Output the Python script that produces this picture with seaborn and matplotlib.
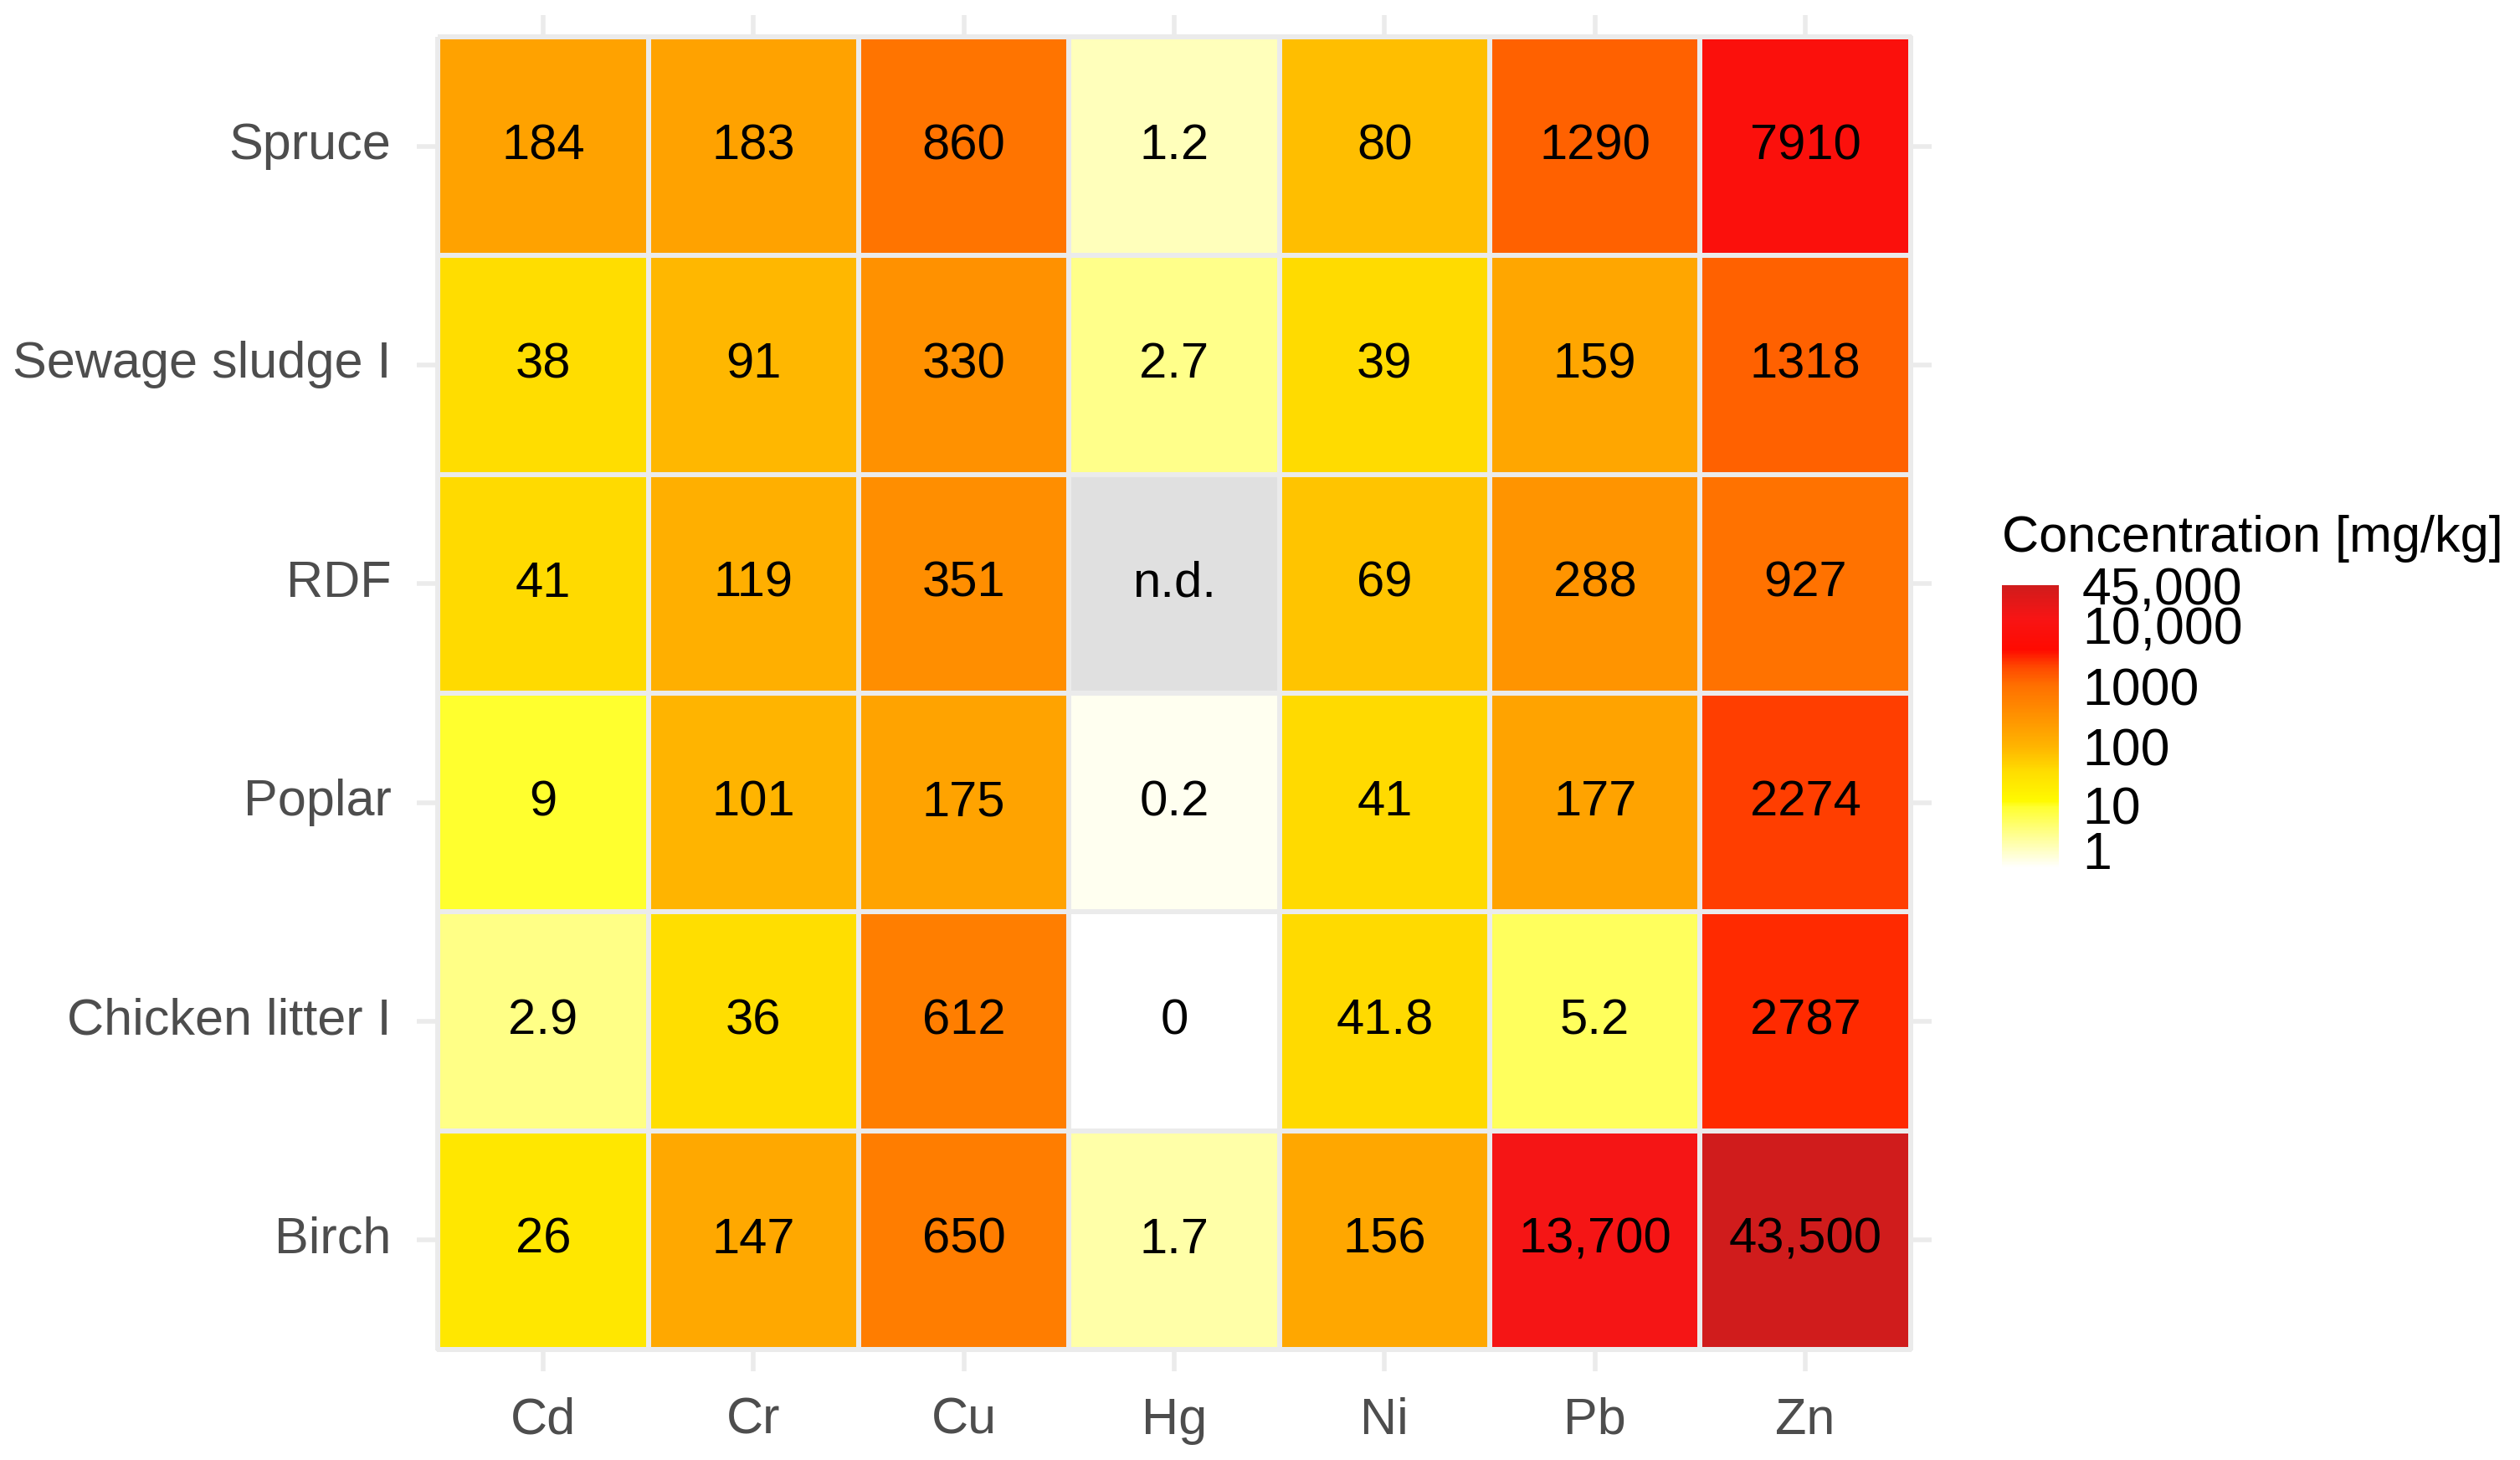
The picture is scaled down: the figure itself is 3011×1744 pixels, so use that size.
import numpy as np
import pandas as pd
import seaborn as sns
import matplotlib.pyplot as plt
from matplotlib.colors import LinearSegmentedColormap

# Data
samples = ['Spruce', 'Sewage sludge I', 'RDF', 'Poplar', 'Chicken litter I', 'Birch']
metals = ['Cd', 'Cr', 'Cu', 'Hg', 'Ni', 'Pb', 'Zn']

spruce = [184, 183, 860, 1.2, 80, 1290, 7910]
sewage_sludge = [38, 91, 330, 2.7, 39, 159, 1318]
rdf = [41, 119, 351, np.nan, 69, 288, 927]
poplar = [9, 101, 175, 0.2, 41, 177, 2274]
chicken_litter = [2.9, 36, 612, 0, 41.8, 5.2, 2787]
birch = [26, 147, 650, 1.7, 156, 13700, 43500]

legend_ticks = [1, 10, 100, 1000, 10000, 45000]
legend_labels = ['1', '10', '100', '1000', '10,000', '45,000']

df = pd.DataFrame([spruce, sewage_sludge, rdf, poplar, chicken_litter, birch],
                  index=samples, columns=metals)


def fmt(v):
    if np.isnan(v):
        return 'n.d.'
    if v >= 10000:
        return '{:,.0f}'.format(v)
    return '{:g}'.format(v)


labels = df.apply(lambda col: col.map(fmt))
trans = np.log10(df + 1)

vmax = np.log10(45000 + 1)
stops = [(0.0, '#FFFFFF'), (1.0, '#FFFF30'), (1.1, '#FFFA00'), (1.6, '#FFDC00'),
         (2.0, '#FFB400'), (2.5, '#FF9200'), (3.0, '#FF7000'), (3.3, '#FF4A00'),
         (3.6, '#FF0A00'), (4.1, '#F81414'), (vmax, '#D01C1C')]
cmap = LinearSegmentedColormap.from_list('conc', [(v / vmax, c) for v, c in stops])
cmap.set_bad('#E0E0E0')

sns.set_style('white')
plt.rcParams['font.family'] = ['Liberation Sans', 'DejaVu Sans']

fig = plt.figure(figsize=(15.055, 8.72), dpi=200)
ax = fig.add_axes([0.1654, 0.0608, 0.6011, 0.9290])
cax = fig.add_axes([0.7944, 0.4054, 0.0226, 0.1938])

sns.heatmap(trans, ax=ax, cbar_ax=cax, cmap=cmap, vmin=0, vmax=vmax,
            annot=labels, fmt='', annot_kws={'color': 'black', 'fontsize': 21.5},
            linewidths=1.5, linecolor='#EBEBEB',
            cbar_kws={'ticks': np.log10(np.array(legend_ticks) + 1)})

# n.d. cell is masked by seaborn, label it separately
for i, s in enumerate(samples):
    for j, m in enumerate(metals):
        if np.isnan(df.loc[s, m]):
            ax.text(j + 0.5, i + 0.5, 'n.d.', ha='center', va='center',
                    color='black', fontsize=21.5)

ax.set_xlim(-0.1, len(metals) + 0.1)
ax.set_ylim(len(samples) + 0.1, -0.1)
ax.set_axisbelow(True)
ax.grid(True, color='#EBEBEB', linewidth=2)
for sp in ax.spines.values():
    sp.set_visible(False)
ax.tick_params(axis='both', length=0, labelsize=22, labelcolor='#4D4D4D', pad=11)
ax.set_yticklabels(samples, rotation=0)
ax.set_xticklabels(metals, rotation=0)
ax.set_xlabel('')
ax.set_ylabel('')

cbar = ax.collections[0].colorbar
cbar.outline.set_visible(False)
cbar.set_ticklabels(legend_labels)
cax.tick_params(which='both', direction='in', left=True, right=True, color='white',
                length=7, width=2, labelsize=22.5, labelcolor='black', pad=10)

fig.text(0.7944, 0.6313, 'Concentration [mg/kg]', ha='left', va='center',
         fontsize=22, color='black')

fig.savefig('out.png', dpi=200)
